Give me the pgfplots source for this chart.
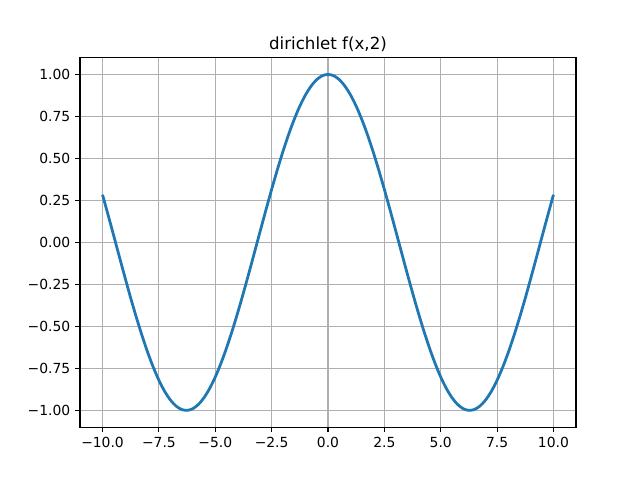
\documentclass[border=0pt]{standalone}
\usepackage{pgfplots}
\pgfplotsset{compat=1.18}
\usepackage{fontspec}
\setmainfont{DejaVu Sans}
\definecolor{mplblue}{RGB}{31,119,180}
\definecolor{gridgray}{RGB}{176,176,176}
\begin{document}
\begin{tikzpicture}
\path[use as bounding box] (-57.6pt,-38.02pt) rectangle (403.2pt,307.58pt);
\begin{axis}[scale only axis, width=357.12pt, height=266.11pt, at={(0,0)}, anchor=south west,
  xmin=-11, xmax=11, ymin=-1.1, ymax=1.1,
  xtick={-10,-7.5,-5,-2.5,0,2.5,5,7.5,10},
  xticklabels={−10.0,−7.5,−5.0,−2.5,0.0,2.5,5.0,7.5,10.0},
  ytick={-1,-0.75,-0.5,-0.25,0,0.25,0.5,0.75,1},
  yticklabels={−1.00,−0.75,−0.50,−0.25,0.00,0.25,0.50,0.75,1.00},
  grid=major, grid style={color=gridgray, line width=0.8pt},
  axis line style={line width=0.8pt},
  tick align=outside, major tick length=3.5pt, tick style={black, line width=0.8pt},
  xtick pos=bottom, ytick pos=left,
  ticklabel style={font=\fontsize{10}{12}\selectfont},
  title={dirichlet f(x,2)},
  title style={font=\fontsize{12}{14}\selectfont, at={(0.5,1)}, anchor=base},
]
\addplot[color=mplblue, line width=2pt, smooth] coordinates {
(-10,0.28366) (-9.75,0.16172) (-9.5,0.03760) (-9.25,-0.08731) (-9,-0.21080)
(-8.75,-0.33192) (-8.5,-0.44609) (-8.25,-0.55419) (-8,-0.65364) (-7.75,-0.74290)
(-7.5,-0.82056) (-7.25,-0.88542) (-7,-0.93646) (-6.75,-0.97288) (-6.5,-0.99413)
(-6.25,-0.99986) (-6,-0.98999) (-5.75,-0.96458) (-5.5,-0.92430) (-5.25,-0.86962)
(-5,-0.80114) (-4.75,-0.72024) (-4.5,-0.62817) (-4.25,-0.52627) (-4,-0.41615)
(-3.75,-0.29953) (-3.5,-0.17825) (-3.25,-0.05417) (-3,0.07074) (-2.75,0.19454)
(-2.5,0.31532) (-2.25,0.43118) (-2,0.54030) (-1.75,0.64100) (-1.5,0.73169)
(-1.25,0.81096) (-1,0.87758) (-0.75,0.93051) (-0.5,0.96891) (-0.25,0.99220)
(0,1)
(0.25,0.99220) (0.5,0.96891) (0.75,0.93051) (1,0.87758) (1.25,0.81096)
(1.5,0.73169) (1.75,0.64100) (2,0.54030) (2.25,0.43118) (2.5,0.31532)
(2.75,0.19454) (3,0.07074) (3.25,-0.05417) (3.5,-0.17825) (3.75,-0.29953)
(4,-0.41615) (4.25,-0.52627) (4.5,-0.62817) (4.75,-0.72024) (5,-0.80114)
(5.25,-0.86962) (5.5,-0.92430) (5.75,-0.96458) (6,-0.98999) (6.25,-0.99986)
(6.5,-0.99413) (6.75,-0.97288) (7,-0.93646) (7.25,-0.88542) (7.5,-0.82056)
(7.75,-0.74290) (8,-0.65364) (8.25,-0.55419) (8.5,-0.44609) (8.75,-0.33192)
(9,-0.21080) (9.25,-0.08731) (9.5,0.03760) (9.75,0.16172) (10,0.28366)
};
\end{axis}
\end{tikzpicture}
\end{document}
